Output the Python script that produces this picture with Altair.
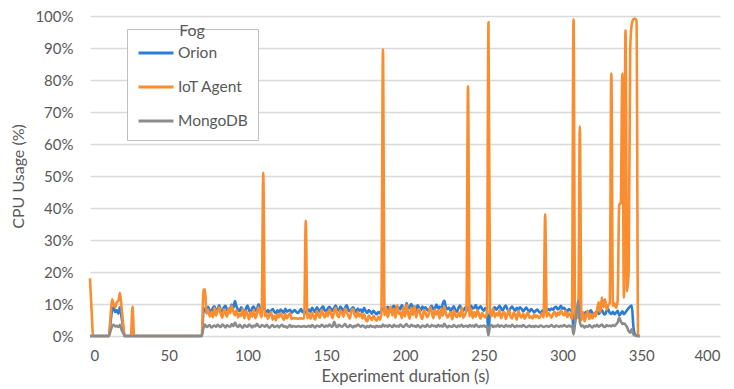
import altair as alt
import pandas as pd

series_names = ["Orion", "IoT Agent", "MongoDB"]
series_colors = ["#2a7dd6", "#fa8d2f", "#8c8c8c"]

x_ticks = [0, 50, 100, 150, 200, 250, 300, 350, 400]
y_ticks = [0, 10, 20, 30, 40, 50, 60, 70, 80, 90, 100]

# CPU usage (%) per second, t = 0 .. 349
orion = [
    0, 0, 0, 0, 0, 0, 0, 0, 0, 0,
    0, 0, 0, 4, 8, 9, 7.5, 8, 7, 9,
    6, 3, 0, 0, 0, 0, 0, 0, 0, 0,
    0, 0, 0, 0, 0, 0, 0, 0, 0, 0,
    0, 0, 0, 0, 0, 0, 0, 0, 0, 0,
    0, 0, 0, 0, 0, 0, 0, 0, 0, 0,
    0, 0, 0, 0, 0, 0, 0, 0, 0, 0,
    0, 0, 7.5, 8.6, 7.2, 9.1, 8.0, 7.4, 8.8, 9.3,
    7.9, 8.4, 9.6, 8.1, 7.7, 8.9, 9.4, 8.2, 7.6, 8.5,
    9.8, 8.7, 10.9, 9.2, 8.3, 7.8, 9.0, 8.1, 7.3, 8.6,
    9.5, 8.0, 7.4, 8.8, 9.2, 7.9, 8.3, 9.9, 8.5, 7.7,
    9.6, 8.2, 7.5, 8.1, 7.2, 7.9, 8.4, 7.6, 7.1, 8.0,
    7.4, 8.3, 7.8, 7.2, 8.5, 7.6, 7.9, 8.2, 7.3, 7.7,
    8.1, 7.5, 7.2, 7.8, 8.4, 7.4, 7.9, 7.1, 7.6, 8.3,
    7.5, 8.8, 8.1, 7.4, 9.0, 8.2, 7.6, 8.7, 9.3, 8.0,
    7.7, 8.6, 9.1, 8.4, 7.9, 8.8, 9.5, 8.3, 8.0, 9.2,
    8.5, 7.8, 8.9, 9.6, 8.2, 7.7, 8.4, 9.0, 8.1, 7.5,
    8.6, 7.9, 8.3, 7.4, 8.8, 7.8, 7.2, 8.1, 7.6, 7.0,
    7.9, 7.3, 6.8, 7.5, 7.1, 8.0, 8.6, 7.7, 8.4, 9.1,
    8.2, 7.6, 8.9, 9.4, 8.5, 7.8, 9.0, 8.3, 9.7, 8.6,
    7.9, 10.3, 8.4, 9.1, 10.0, 8.7, 9.3, 8.1, 9.6, 8.8,
    7.9, 9.2, 8.5, 9.0, 8.2, 7.8, 8.9, 9.4, 8.3, 8.7,
    9.8, 8.6, 9.2, 8.0, 10.1, 11.0, 9.0, 8.4, 8.9, 7.8,
    8.6, 9.3, 8.1, 7.6, 8.8, 9.5, 8.3, 7.9, 8.7, 9.1,
    8.0, 8.5, 9.4, 8.6, 8.9, 9.7, 8.2, 8.8, 9.3, 8.4,
    7.9, 8.7, 8.1, 0.3, 7.5, 7.2, 8.5, 9.0, 8.2, 8.8,
    9.4, 8.6, 8.0, 8.9, 9.5, 8.3, 7.8, 8.7, 9.2, 8.4,
    7.9, 8.8, 8.2, 9.0, 8.5, 7.7, 8.3, 8.9, 8.1, 7.6,
    8.4, 8.0, 7.4, 7.9, 8.3, 7.6, 7.2, 7.8, 8.1, 7.5,
    7.9, 8.4, 8.0, 8.6, 8.2, 8.9, 9.1, 8.3, 8.7, 9.4,
    8.5, 8.8, 8.1, 7.7, 8.4, 8.0, 7.5, 2.5, 6.8, 7.9,
    8.5, 7.3, 6.9, 6.2, 7.0, 7.6, 6.8, 7.4, 8.0, 7.1,
    6.5, 7.3, 7.8, 6.9, 7.5, 8.2, 7.1, 6.7, 7.9, 8.4,
    7.2, 6.9, 7.6, 6.8, 7.3, 7.9, 6.5, 7.0, 7.7, 6.8,
    7.4, 8.1, 8.7, 9.2, 9.5, 3.0, 0.5, 0.2, 0, 0,
]

iot_agent = [
    18, 8, 0, 0, 0, 0, 0, 0, 0, 0,
    0, 0, 0, 6, 11.5, 10, 9, 10.5, 11, 13.5,
    9, 4, 0, 0, 0, 0, 0, 9.2, 0, 0,
    0, 0, 0, 0, 0, 0, 0, 0, 0, 0,
    0, 0, 0, 0, 0, 0, 0, 0, 0, 0,
    0, 0, 0, 0, 0, 0, 0, 0, 0, 0,
    0, 0, 0, 0, 0, 0, 0, 0, 0, 0,
    0, 0, 14.5, 14.6, 7.0, 8.2, 6.1, 7.5, 5.9, 8.8,
    6.4, 7.9, 9.0, 6.8, 5.7, 8.3, 7.2, 6.0, 8.6, 7.1,
    9.4, 7.6, 6.5, 8.1, 5.8, 7.0, 6.3, 8.5, 5.5, 7.8,
    6.9, 5.2, 7.4, 6.0, 8.2, 5.6, 6.8, 9.0, 7.3, 5.9,
    51, 6.2, 7.0, 5.4, 6.6, 7.5, 5.1, 6.3, 4.9, 6.8,
    5.8, 7.2, 6.1, 5.0, 6.9, 5.5, 6.4, 7.1, 5.3, 5.6,
    5.5, 5.5, 5.4, 5.5, 5.5, 5.4, 5.5, 36, 5.6, 6.8,
    5.4, 7.3, 6.0, 5.1, 7.8, 6.5, 5.7, 8.1, 6.9, 5.8,
    7.4, 6.2, 8.3, 7.0, 5.6, 7.7, 8.8, 6.4, 5.9, 8.0,
    7.2, 6.0, 8.6, 7.5, 6.3, 5.4, 7.9, 8.4, 6.6, 5.8,
    7.6, 6.1, 7.0, 5.5, 6.8, 5.2, 4.6, 6.4, 5.7, 5.0,
    6.3, 5.4, 4.8, 6.0, 5.1, 6.9, 89.5, 6.5, 8.7, 5.9,
    7.8, 9.2, 6.4, 8.5, 5.7, 9.6, 6.9, 7.4, 5.6, 8.9,
    6.1, 9.8, 7.0, 5.4, 8.8, 6.6, 9.3, 5.8, 7.7, 8.4,
    6.2, 5.3, 8.1, 7.2, 5.9, 6.8, 9.0, 7.5, 5.6, 8.3,
    6.7, 7.9, 5.5, 8.6, 6.3, 9.1, 7.0, 5.8, 6.6, 7.4,
    5.2, 8.0, 6.5, 5.9, 7.3, 6.1, 8.9, 5.7, 6.6, 7.8,
    78, 6.2, 8.4, 5.6, 7.5, 6.0, 8.1, 6.7, 5.4, 7.2,
    6.3, 5.8, 7.0, 98, 7.7, 6.2, 8.5, 5.9, 7.1, 6.4,
    8.0, 5.6, 6.9, 7.5, 5.3, 6.8, 8.2, 6.0, 5.5, 7.3,
    6.6, 5.1, 7.9, 6.3, 5.8, 7.0, 5.4, 6.5, 7.4, 5.7,
    6.1, 5.5, 6.8, 5.9, 6.4, 5.6, 6.2, 7.1, 5.8, 38,
    6.0, 7.2, 6.5, 5.7, 6.9, 7.6, 6.1, 7.3, 6.6, 8.0,
    7.0, 6.4, 7.8, 5.9, 7.1, 6.5, 5.3, 99, 4.5, 6.8,
    5.6, 65.5, 5.0, 7.4, 4.6, 6.2, 7.9, 5.3, 6.8, 5.5,
    7.2, 6.1, 8.3, 10.5, 7.4, 12.0, 9.0, 11.5, 8.2, 9.6,
    10.3, 82, 9.5, 10.2, 8.8, 11.0, 41, 41.5, 82, 12,
    95.5, 14, 20, 90, 97.5, 99, 99.2, 98.5, 0, 0,
]

mongodb = [
    0, 0, 0, 0, 0, 0, 0, 0, 0, 0,
    0, 0, 0, 1.5, 3, 3.5, 3, 3.2, 2.8, 3.5,
    2, 1, 0, 0, 0, 0, 0, 0, 0, 0,
    0, 0, 0, 0, 0, 0, 0, 0, 0, 0,
    0, 0, 0, 0, 0, 0, 0, 0, 0, 0,
    0, 0, 0, 0, 0, 0, 0, 0, 0, 0,
    0, 0, 0, 0, 0, 0, 0, 0, 0, 0,
    0, 0, 2.5, 3.6, 2.8, 3.1, 3.4, 2.7, 3.0, 3.3,
    2.9, 3.5, 3.1, 2.8, 3.6, 3.2, 2.7, 3.4, 3.0, 2.9,
    3.7, 3.1, 4.2, 3.3, 2.8, 3.5, 3.0, 2.6, 3.4, 3.1,
    2.9, 3.6, 3.2, 2.7, 3.3, 3.0, 3.8, 3.1, 2.8, 3.4,
    3.2, 2.9, 3.5, 3.0, 2.6, 3.1, 3.4, 2.8, 3.0, 3.3,
    2.7, 3.2, 3.5, 2.9, 3.1, 2.6, 3.0, 3.4, 2.8, 3.1,
    3.0, 2.9, 3.1, 3.0, 2.9, 3.0, 3.1, 2.9, 3.0, 3.2,
    2.8, 3.4, 3.0, 2.7, 3.3, 3.1, 2.9, 3.5, 3.2, 2.8,
    3.3, 3.0, 3.6, 3.1, 2.9, 4.4, 3.2, 2.8, 3.5, 3.1,
    2.9, 3.3, 3.7, 3.0, 2.8, 3.4, 3.1, 2.7, 3.2, 3.0,
    3.6, 3.2, 2.9, 3.3, 3.0, 2.6, 3.1, 2.8, 3.3, 2.9,
    3.0, 2.7, 3.2, 2.9, 3.1, 2.8, 3.6, 3.0, 3.3, 2.9,
    3.4, 3.1, 2.8, 3.5, 3.0, 3.2, 2.9, 3.6, 3.1, 2.8,
    3.3, 3.7, 3.0, 2.9, 3.5, 3.1, 3.2, 2.8, 3.4, 3.0,
    2.7, 3.3, 3.1, 2.8, 3.6, 3.0, 2.9, 3.4, 3.1, 3.2,
    2.8, 3.5, 3.0, 3.3, 2.9, 3.8, 3.1, 2.7, 3.2, 3.0,
    2.9, 3.4, 3.1, 2.8, 3.3, 3.0, 3.5, 2.9, 3.1, 3.2,
    2.8, 3.4, 3.0, 3.3, 2.9, 3.6, 3.1, 2.8, 3.2, 3.0,
    3.3, 2.9, 3.1, 0.3, 3.0, 3.4, 2.8, 3.2, 3.0, 3.5,
    2.9, 3.3, 3.1, 2.8, 3.4, 3.0, 3.2, 2.9, 3.5, 3.1,
    2.8, 3.3, 3.0, 3.2, 2.9, 3.4, 3.1, 2.8, 3.0, 3.3,
    2.9, 3.1, 2.8, 3.2, 3.0, 2.9, 3.3, 3.1, 2.8, 3.0,
    3.2, 2.9, 3.1, 3.4, 3.0, 2.8, 3.3, 3.1, 2.9, 3.2,
    3.0, 3.4, 3.1, 2.9, 3.3, 3.0, 3.2, 0.5, 4.0, 7.5,
    11.0, 4.5, 3.0, 3.3, 2.6, 3.1, 2.9, 3.4, 3.0, 2.7,
    3.3, 3.0, 3.5, 2.9, 3.2, 3.6, 3.0, 2.8, 3.4, 3.1,
    3.3, 3.0, 3.4, 3.1, 3.6, 4.2, 5.8, 4.6, 3.8, 4.0,
    3.5, 2.8, 1.5, 1.0, 2.2, 0.5, 0.2, 0, 0, 0,
]

rows = []
for name, vals in zip(series_names, [orion, iot_agent, mongodb]):
    for t, v in enumerate(vals):
        rows.append({"t": t, "cpu": v, "series": name})
df = pd.DataFrame(rows)

FONT = "Lato"
TEXT = "#595959"

chart = (
    alt.Chart(df)
    .mark_line(strokeWidth=2.6, interpolate="monotone")
    .encode(
        x=alt.X(
            "t:Q",
            scale=alt.Scale(domain=[0, 400], nice=False),
            axis=alt.Axis(
                title="Experiment duration (s)",
                values=x_ticks,
                grid=False,
                domain=False,
                ticks=False,
                labelPadding=12,
                titlePadding=5,
            ),
        ),
        y=alt.Y(
            "cpu:Q",
            scale=alt.Scale(domain=[0, 100], nice=False),
            axis=alt.Axis(
                title="CPU Usage (%)",
                values=y_ticks,
                labelExpr="datum.value + '%'",
                domain=False,
                ticks=False,
                labelPadding=17,
                titlePadding=8,
            ),
        ),
        color=alt.Color(
            "series:N",
            scale=alt.Scale(domain=series_names, range=series_colors),
            sort=series_names,
            legend=alt.Legend(
                title="Fog",
                orient="none",
                legendX=37,
                legendY=13,
                padding=10,
                strokeColor="#bfbfbf",
                fillColor="white",
                symbolType="stroke",
                symbolSize=1225,
                symbolStrokeWidth=3,
                labelOffset=3,
                rowPadding=6,
                titleAnchor="middle",
                titleBaseline="bottom",
                titlePadding=-21,
            ),
        ),
        detail="series:N",
        order="t:Q",
    )
    .properties(width=630, height=320)
    .configure(font=FONT, padding={"left": 90, "top": 16, "right": 14, "bottom": 53}, autosize=alt.AutoSizeParams(type="none"))
    .configure_view(stroke=None)
    .configure_axis(
        labelFont=FONT,
        titleFont=FONT,
        labelFontSize=15,
        titleFontSize=16.5,
        labelColor=TEXT,
        titleColor=TEXT,
        titleFontWeight="normal",
        gridColor="#d9d9d9",
        gridWidth=1.5,
    )
    .configure_axisY(titleFontSize=16)
    .configure_legend(
        labelFont=FONT,
        titleFont=FONT,
        labelFontSize=15.5,
        titleFontSize=16,
        labelColor=TEXT,
        titleColor=TEXT,
        titleFontWeight="normal",
    )
)

chart.save("out.html", embed_options={"renderer": "svg", "actions": False})
